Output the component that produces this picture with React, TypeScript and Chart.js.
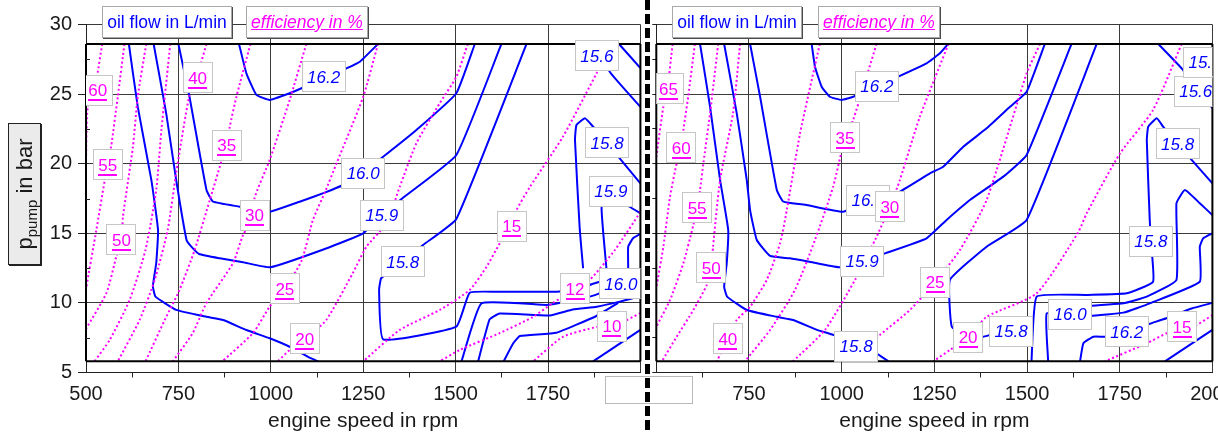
import React, { useEffect, useRef } from 'react';
import { Chart, registerables } from 'chart.js';

Chart.register(...registerables);

type Pt = [number, number];
type Tag = [number, number, string];

const FONT = "'Liberation Sans', Arial, sans-serif";
const BLUE = '#0000ff';
const MAGENTA = '#ff00ff';
const GRID = '#3a3a3a';
const INK = '#1a1a1a';

// axis ranges (rpm, bar) and the measured map limits in bar
const rpmRange: Pt = [500, 2000];
const barRange: Pt = [5, 30];
const mapEdges: Pt = [5.8, 28.6];

// ---------- left map: oil flow contours (L/min), points are [rpm, bar] ----------
const leftFlowOuter: Pt[] = [[616,28.6],[640,24.1],[677,18.8],[695,15.2],[690,12.85],[681,11.2],[688,10.45],[744,9.5],[826,9.0],[871,8.77],[934,8.05],[997,7.46],[1051,6.85],[1101,6.13],[1128,5.8]];
const leftFlow159: Pt[] = [[683,28.6],[717,23.62],[744,18.83],[772,14.52],[785,14.04],[806,13.51],[862,13.2],[925,12.92],[999,12.56],[1159,14.0],[1250,15.0],[1300,16.31],[1357,17.54],[1502,20.63],[1624,28.6]];
const leftFlow160: Pt[] = [[750,28.6],[780,24.81],[826,18.11],[844,17.27],[916,16.91],[956,16.7],[997,16.55],[1078,17.27],[1146,17.92],[1195,18.47],[1250,19.4],[1304,20.5],[1394,22.42],[1502,25.06],[1552,28.6]];
const leftFlow162: Pt[] = [[914,28.6],[934,26.49],[961,24.94],[997,24.58],[1051,25.06],[1083,25.42],[1143,26.1],[1205,26.85],[1241,27.33],[1290,28.6]];
const leftFlow158: Pt[] = [[1692,28.6],[1502,16.03],[1412,14.16],[1357,12.94],[1299,11.79],[1293,10.93],[1304,7.38],[1502,8.29],[1538,10.73],[1611,10.8],[1773,10.8],[1823,11.0],[1863,11.29],[1890,11.52]];
const leftFlowLowA: Pt[] = [[1516,5.8],[1570,9.97],[1746,9.85],[1777,9.97],[1863,10.45],[1890,10.69],[1947,11.2]];
const leftFlowLowB: Pt[] = [[1561,5.8],[1592,8.81],[1619,9.24],[1755,9.1],[1817,9.53],[1882,9.73],[1944,10.09],[2000,10.5]];
const leftFlowLowC: Pt[] = [[1630,5.8],[1656,7.1],[1674,7.62],[1773,7.86],[1881,9.06],[1940,10.0]];
const leftFlowLowD: Pt[] = [[1872,5.8],[2000,8.06]];
const leftFlowEdge159: Pt[] = [[2000,16.44],[1971,16.91],[1920,18.03],[1895,16.89],[1908,12.51]];
const leftFlowEdge160: Pt[] = [[1967,12.49],[1967,14.04],[1980,14.64],[2000,14.95]];
const leftFlowTall: Pt[] = [[1845,12.49],[1836,15.24],[1823,21.7],[1827,22.78],[1850,23.26],[1868,22.78],[1910,21.49],[1944,20.39],[2000,18.59]];
const leftFlow156: Pt[] = [[1890,28.6],[1917,26.6],[2000,24.08]];
const leftFlowCorner: Pt[] = [[1942,28.6],[2000,26.87]];

const leftFlowTags: Tag[] = [[1143,26.23,'16.2'],[1250,19.33,'16.0'],[1300,16.31,'15.9'],[1357,12.94,'15.8'],[1882,27.74,'15.6'],[1910,21.49,'15.8'],[1920,18.03,'15.9'],[1947,11.36,'16.0']];

// ---------- left map: efficiency contours (%) ----------
const leftEff60: Pt[] = [[544,28.6],[531,26.37],[531,25.29],[505,24.09],[500,20.27]];
const leftEff55: Pt[] = [[604,28.6],[586,24.81],[568,21.22],[559,19.91],[550,18.71],[528,15.24],[500,11.0]];
const leftEff50: Pt[] = [[663,28.6],[640,24.81],[627,21.22],[600,16.19],[596,14.52],[582,13.32],[555,10.69],[500,8.13]];
const leftEff45: Pt[] = [[728,28.6],[704,22.42],[690,18.11],[661,13.8],[618,10.21],[564,7.34],[523,5.8]];
const leftEff40: Pt[] = [[826,28.6],[812,27.31],[802,26.16],[780,24.94],[744,19.33],[721,15.24],[686,11.65],[645,8.77],[586,5.8]];
const leftEff35: Pt[] = [[945,28.6],[907,24.81],[889,22.66],[881,21.34],[866,20.14],[835,17.39],[794,13.8],[753,10.93],[713,8.77],[661,5.8]];
const leftEff30: Pt[] = [[1096,28.6],[1051,24.58],[997,20.27],[956,17.54],[956,16.31],[925,14.88],[898,12.87],[826,9.99],[789,7.84],[735,5.8]];
const leftEff25: Pt[] = [[1290,28.6],[1250,24.81],[1178,20.03],[1146,17.92],[1114,15.96],[1084,13.08],[1038,11.0],[997,9.73],[952,7.84],[869,5.8]];
const leftEff20: Pt[] = [[1533,28.6],[1502,26.25],[1457,24.34],[1394,21.47],[1349,18.35],[1313,15.74],[1259,14.04],[1222,12.15],[1150,8.77],[1092,7.41],[1051,6.62],[1019,5.8]];
const leftEff15: Pt[] = [[1923,28.6],[1896,27.23],[1882,26.52],[1790,21.92],[1701,18.33],[1665,16.67],[1652,15.5],[1620,14.3],[1584,12.6],[1538,10.93],[1457,9.49],[1349,8.06],[1250,5.8]];
const leftEff12: Pt[] = [[2000,16.53],[1931,13.8],[1863,11.65],[1823,11.0],[1763,9.99],[1709,8.99],[1620,7.84],[1511,6.62],[1457,5.8]];
const leftEff10: Pt[] = [[2000,9.27],[1963,8.77],[1923,8.34],[1882,8.27],[1790,7.56],[1710,5.8]];

const leftEffTags: Tag[] = [[532,25.29,'60'],[559,19.91,'55'],[596,14.52,'50'],[802,26.16,'40'],[881,21.34,'35'],[956,16.31,'30'],[1038,11.0,'25'],[1092,7.41,'20'],[1652,15.5,'15'],[1823,11.0,'12'],[1923,8.34,'10']];

// ---------- right map: oil flow contours (L/min) ----------
const rightFlow158a: Pt[] = [[618,28.6],[645,24.09],[672,18.83],[694,15.24],[690,12.85],[683,11.16],[691,10.45],[744,9.49],[825,9.0],[869,8.77],[933,8.06],[977,7.7],[1039,6.9],[1094,6.38],[1126,5.8]];
const rightFlow159: Pt[] = [[683,28.6],[717,23.62],[744,18.83],[753,16.67],[771,14.52],[807,13.37],[861,13.2],[933,12.85],[996,12.56],[1055,13.01],[1117,13.56],[1229,14.64],[1283,15.96],[1346,17.39],[1436,19.07],[1499,20.63],[1620,28.6]];
const rightFlow160: Pt[] = [[753,28.6],[780,24.81],[825,18.11],[843,17.27],[906,17.03],[1004,16.55],[1071,17.45],[1148,17.87],[1238,19.31],[1274,19.78],[1328,21.22],[1391,22.54],[1454,24.09],[1499,25.17],[1548,28.6]];
const rightFlow162: Pt[] = [[919,28.6],[928,26.97],[946,25.53],[968,24.81],[1000,24.58],[1031,24.81],[1095,25.58],[1152,26.25],[1229,27.21],[1265,27.93],[1287,28.6]];
const rightFlow158b: Pt[] = [[1688,28.6],[1499,15.96],[1391,14.04],[1292,11.65],[1297,8.29],[1341,7.55],[1382,7.57],[1400,7.69],[1457,7.98],[1512,7.6]];
const rightFlowTall: Pt[] = [[1512,5.8],[1526,10.45],[1661,10.57],[1769,10.69],[1840,11.52],[1834,14.44],[1831,15.96],[1823,21.7],[1827,22.66],[1850,23.26],[1867,22.66],[1906,21.42],[1944,20.27],[2000,18.59]];
const rightFlowLowA: Pt[] = [[1557,5.8],[1553,9.25],[1616,9.2],[1670,9.78],[1760,9.97],[1823,10.45],[1903,11.65],[1903,17.16],[1926,18.11],[1966,17.16],[2000,16.31]];
const rightFlowLowB: Pt[] = [[1616,9.2],[1670,9.06],[1760,9.3],[1831,9.97],[1966,11.52],[1966,14.04],[1975,14.64],[2000,15.0]];
const rightFlowLowC: Pt[] = [[1643,5.8],[1652,7.1],[1679,7.57],[1710,7.57],[1769,7.91],[1831,8.5],[1876,8.9],[1944,9.6],[2000,10.0]];
const rightFlowLowD: Pt[] = [[1872,5.8],[2000,8.06]];
const rightFlow156: Pt[] = [[1854,28.6],[1921,26.73],[1955,25.18],[1990,24.3],[2000,24.0]];

const rightFlowTags: Tag[] = [[1039,6.9,'15.8'],[1055,13.01,'15.9'],[1071,17.39,'16.0'],[1095,25.58,'16.2'],[1457,7.98,'15.8'],[1616,9.2,'16.0'],[1769,7.91,'16.2'],[1834,14.44,'15.8'],[1906,21.42,'15.8'],[1955,25.18,'15.6'],[1980,27.3,'15.6']];

// ---------- right map: efficiency contours (%) ----------
const rightEff65: Pt[] = [[544,28.6],[530,25.4],[519,24.09],[500,20.5]];
const rightEff60: Pt[] = [[604,28.6],[586,24.81],[573,22.42],[567,21.13],[555,20.03],[537,17.63],[519,14.04],[500,11.07]];
const rightEff55: Pt[] = [[667,28.6],[645,23.62],[627,20.03],[618,18.11],[610,16.82],[600,15.6],[573,12.85],[537,10.21],[500,8.29]];
const rightEff50: Pt[] = [[726,28.6],[707,23.64],[672,18.83],[653,14.02],[648,12.51],[636,11.28],[600,9.49],[555,7.57],[515,5.8]];
const rightEff40: Pt[] = [[941,28.6],[888,22.21],[852,16.67],[834,14.3],[798,11.65],[753,9.73],[717,8.77],[693,7.41],[663,5.8]];
const rightEff35: Pt[] = [[1094,28.6],[1031,23.14],[1009,21.85],[977,18.35],[928,14.52],[874,10.93],[807,8.06],[739,5.8]];
const rightEff30: Pt[] = [[1288,28.6],[1211,23.38],[1157,18.83],[1130,16.89],[1090,14.52],[1036,11.65],[955,8.06],[869,5.8]];
const rightEff25: Pt[] = [[1535,28.6],[1499,26.49],[1391,17.39],[1319,13.8],[1252,11.5],[1184,9.49],[1103,7.7],[1018,5.8]];
const rightEff20: Pt[] = [[1917,28.6],[1840,23.86],[1751,20.75],[1661,16.44],[1637,15.02],[1526,10.69],[1391,9.0],[1341,7.55],[1292,6.62],[1247,5.8]];
const rightEff15: Pt[] = [[2000,9.13],[1957,8.41],[1918,8.27],[1876,7.82],[1823,7.1],[1710,5.8]];

const rightEffTags: Tag[] = [[533,25.37,'65'],[567,21.13,'60'],[610,16.82,'55'],[648,12.51,'50'],[693,7.41,'40'],[1009,21.85,'35'],[1130,16.89,'30'],[1252,11.5,'25'],[1341,7.55,'20'],[1918,8.27,'15']];

interface PanelSpec {
  flow: Pt[][];
  eff: Pt[][];
  flowTags: Tag[];
  effTags: Tag[];
  barLabels: boolean;
  yWidth: number;
  rightPad: number;
}

const leftPanel: PanelSpec = {
  flow: [leftFlowOuter, leftFlow159, leftFlow160, leftFlow162, leftFlow158, leftFlowLowA, leftFlowLowB, leftFlowLowC, leftFlowLowD, leftFlowEdge159, leftFlowEdge160, leftFlowTall, leftFlow156, leftFlowCorner],
  eff: [leftEff60, leftEff55, leftEff50, leftEff45, leftEff40, leftEff35, leftEff30, leftEff25, leftEff20, leftEff15, leftEff12, leftEff10],
  flowTags: leftFlowTags,
  effTags: leftEffTags,
  barLabels: true,
  yWidth: 86,
  rightPad: 7.6,
};

const rightPanel: PanelSpec = {
  flow: [rightFlow158a, rightFlow159, rightFlow160, rightFlow162, rightFlow158b, rightFlowTall, rightFlowLowA, rightFlowLowB, rightFlowLowC, rightFlowLowD, rightFlow156],
  eff: [rightEff65, rightEff60, rightEff55, rightEff50, rightEff40, rightEff35, rightEff30, rightEff25, rightEff20, rightEff15],
  flowTags: rightFlowTags,
  effTags: rightEffTags,
  barLabels: false,
  yWidth: 8.3,
  rightPad: 47.6,
};

function drawTag(ctx: CanvasRenderingContext2D, px: number, py: number, text: string, isFlow: boolean) {
  ctx.font = isFlow ? `italic 17px ${FONT}` : `17px ${FONT}`;
  const tw = ctx.measureText(text).width;
  const w = Math.round(tw + 11);
  const h = 31;
  const x0 = Math.round(px - w / 2);
  const y0 = Math.round(py - h / 2);
  ctx.fillStyle = '#ffffff';
  ctx.fillRect(x0, y0, w, h);
  ctx.strokeStyle = '#c6c6c6';
  ctx.lineWidth = 1;
  ctx.strokeRect(x0 + 0.5, y0 + 0.5, w - 1, h - 1);
  ctx.fillStyle = isFlow ? BLUE : MAGENTA;
  ctx.textAlign = 'center';
  ctx.textBaseline = 'middle';
  ctx.fillText(text, px, py + 1);
  if (!isFlow) {
    ctx.fillRect(Math.round(px - tw / 2), Math.round(py + 9), Math.round(tw), 2);
  }
}

function mapPlugin(p: PanelSpec) {
  return {
    id: 'mapFrame',
    afterDatasetsDraw(chart: any) {
      const { ctx, chartArea } = chart;
      const xs = chart.scales.x;
      const ys = chart.scales.y;
      const xL = xs.getPixelForValue(rpmRange[0]);
      const xR = xs.getPixelForValue(rpmRange[1]);
      const yT = ys.getPixelForValue(mapEdges[1]);
      const yB = ys.getPixelForValue(mapEdges[0]);
      ctx.save();
      ctx.strokeStyle = '#000';
      ctx.lineWidth = 2;
      ctx.beginPath();
      ctx.moveTo(xL, yT); ctx.lineTo(xR, yT);
      ctx.moveTo(xL, yB); ctx.lineTo(xR, yB);
      ctx.moveTo(xL, yT); ctx.lineTo(xL, yB);
      ctx.moveTo(xR, yT); ctx.lineTo(xR, yB);
      ctx.stroke();
      if (p.barLabels) {
        // short inward marks between the labelled bar values
        ctx.lineWidth = 1;
        ctx.strokeStyle = '#222';
        ctx.beginPath();
        for (let v = barRange[0] + 2.5; v < barRange[1]; v += 5) {
          const yy = Math.round(ys.getPixelForValue(v)) + 0.5;
          ctx.moveTo(xL, yy); ctx.lineTo(xL + 4, yy);
        }
        ctx.stroke();
      }
      ctx.beginPath();
      ctx.rect(chartArea.left, 0, chartArea.right - chartArea.left, chart.height);
      ctx.clip();
      p.flowTags.forEach(([r, b, t]) => drawTag(ctx, xs.getPixelForValue(r), ys.getPixelForValue(b), t, true));
      p.effTags.forEach(([r, b, t]) => drawTag(ctx, xs.getPixelForValue(r), ys.getPixelForValue(b), t, false));
      ctx.restore();
    },
  };
}

function buildChart(canvas: HTMLCanvasElement, p: PanelSpec) {
  const toXY = (pts: Pt[]) => pts.map(([x, y]) => ({ x, y }));
  const datasets: any[] = [
    ...p.eff.map((pts) => ({
      data: toXY(pts),
      showLine: true,
      borderColor: MAGENTA,
      borderWidth: 2,
      borderDash: [2, 2.5],
      pointRadius: 0,
      tension: 0.2,
      fill: false,
    })),
    ...p.flow.map((pts) => ({
      data: toXY(pts),
      showLine: true,
      borderColor: BLUE,
      borderWidth: 2,
      pointRadius: 0,
      tension: 0.12,
      fill: false,
    })),
  ];
  return new Chart(canvas, {
    type: 'scatter',
    data: { datasets },
    options: {
      animation: false,
      responsive: false,
      devicePixelRatio: 1,
      events: [],
      layout: { padding: { left: 0, right: p.rightPad, top: 24.5, bottom: 0 } },
      plugins: { legend: { display: false }, tooltip: { enabled: false } },
      scales: {
        x: {
          type: 'linear',
          min: rpmRange[0],
          max: rpmRange[1],
          afterFit: (s: any) => { s.height = 61.5; s.paddingLeft = 0; s.paddingRight = 0; },
          ticks: {
            stepSize: 125,
            autoSkip: false,
            maxRotation: 0,
            padding: 5,
            color: INK,
            font: { family: FONT, size: 20 },
            callback: (v: any) => (Number(v) % 250 === 0 ? String(v) : ''),
          },
          grid: {
            lineWidth: 1,
            tickLength: 5,
            color: (c: any) => (c.tick && c.tick.value % 250 === 0 ? GRID : 'rgba(0,0,0,0)'),
            tickColor: (c: any) => (c.tick && c.tick.value % 250 === 0 ? 'rgba(0,0,0,0)' : '#222'),
          },
          border: { display: true, color: '#222', width: 1 },
          title: {
            display: true,
            text: 'engine speed in rpm',
            color: INK,
            font: { family: FONT, size: 21 },
            padding: { top: 0, bottom: 0 },
          },
        },
        y: {
          type: 'linear',
          min: barRange[0],
          max: barRange[1],
          afterFit: (s: any) => { s.width = p.yWidth; s.paddingTop = 0; s.paddingBottom = 0; },
          ticks: {
            stepSize: 2.5,
            autoSkip: false,
            padding: 6,
            color: INK,
            font: { family: FONT, size: 20 },
            callback: (v: any) => (p.barLabels && Number(v) % 5 === 0 ? String(v) : ''),
          },
          grid: {
            lineWidth: 1,
            tickLength: p.barLabels ? 8 : 4,
            color: (c: any) => (c.tick && c.tick.value % 5 === 0 ? GRID : 'rgba(0,0,0,0)'),
            tickColor: (c: any) => (p.barLabels ? (c.tick && c.tick.value % 5 === 0 ? '#222' : 'rgba(0,0,0,0)') : '#222'),
          },
          border: { display: true, color: '#222', width: 1 },
        },
      },
    } as any,
    plugins: [mapPlugin(p)],
  });
}

const legendBase: React.CSSProperties = {
  position: 'absolute',
  top: 6,
  height: 32,
  background: '#fff',
  border: '1px solid #a8a8a8',
  boxShadow: '1px 1px 0 #4a4a4a',
  boxSizing: 'border-box',
  display: 'flex',
  alignItems: 'center',
  justifyContent: 'center',
  font: `17.5px ${FONT}`,
  whiteSpace: 'nowrap',
};

function FlowKey({ left }: { left: number }) {
  return <div style={{ ...legendBase, left, width: 130, color: BLUE }}>oil flow in L/min</div>;
}

function EffKey({ left }: { left: number }) {
  return (
    <div style={{ ...legendBase, left, width: 122, color: MAGENTA, fontStyle: 'italic', textDecoration: 'underline' }}>
      efficiency in %
    </div>
  );
}

export default function App() {
  const leftRef = useRef<HTMLCanvasElement>(null);
  const rightRef = useRef<HTMLCanvasElement>(null);

  useEffect(() => {
    const charts: Chart[] = [];
    if (leftRef.current) charts.push(buildChart(leftRef.current, leftPanel));
    if (rightRef.current) charts.push(buildChart(rightRef.current, rightPanel));
    return () => charts.forEach((c) => c.destroy());
  }, []);

  return (
    <div style={{ position: 'fixed', left: 0, top: 0, width: 1218, height: 434, overflow: 'hidden', background: '#fff' }}>
      <canvas ref={leftRef} width={648} height={434} style={{ position: 'absolute', left: 0, top: 0 }} />
      <canvas ref={rightRef} width={612} height={434} style={{ position: 'absolute', left: 648, top: 0 }} />
      <div style={{ position: 'absolute', left: 605, top: 376, width: 88, height: 28, background: '#fff', border: '1px solid #b8b8b8', boxSizing: 'border-box' }} />
      <div
        style={{
          position: 'absolute', left: 645, top: 0, width: 5, height: 434,
          background: 'repeating-linear-gradient(to bottom, #000 0px, #000 10px, rgba(0,0,0,0) 10px, rgba(0,0,0,0) 14px)',
        }}
      />
      <FlowKey left={102} />
      <EffKey left={246} />
      <FlowKey left={672} />
      <EffKey left={818} />
      <div
        style={{
          position: 'absolute', left: 8, top: 123, width: 33, height: 142,
          background: '#ebebeb', border: '1px solid #222', boxShadow: '1px 1px 0 #222', boxSizing: 'border-box',
        }}
      >
        <div
          style={{
            position: 'absolute', left: '50%', top: '50%', transform: 'translate(-50%, -50%) rotate(-90deg)',
            font: `22px ${FONT}`, color: INK, whiteSpace: 'nowrap', lineHeight: '24px',
          }}
        >
          p<sub style={{ fontSize: 15, lineHeight: 0 }}>pump</sub> in bar
        </div>
      </div>
    </div>
  );
}
